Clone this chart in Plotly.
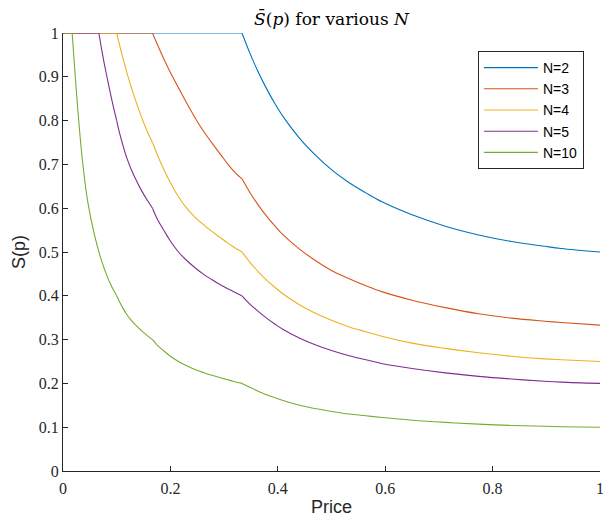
import plotly.graph_objects as go

# Average share S(p) versus price, one curve per number of sellers N
price_tail = [0.3333, 0.348, 0.362, 0.379, 0.395, 0.410, 0.441, 0.472, 0.500,
              0.533, 0.564, 0.595, 0.650, 0.712, 0.774, 0.835, 0.897, 0.928, 1.0]

price_n2 = [0.0] + price_tail
share_n2 = [1.0, 1.0, 0.954, 0.915, 0.873, 0.838, 0.809, 0.759, 0.719, 0.688,
            0.658, 0.635, 0.614, 0.585, 0.559, 0.539, 0.524, 0.513, 0.508, 0.500]

price_n3 = [0.0, 0.1667, 0.176, 0.188, 0.200, 0.219, 0.235, 0.250, 0.265,
            0.281, 0.295, 0.308, 0.320] + price_tail
share_n3 = [1.0, 1.0, 0.973, 0.940, 0.910, 0.866, 0.830, 0.798, 0.770,
            0.743, 0.720, 0.699, 0.682,
            0.667, 0.636, 0.610, 0.582, 0.559, 0.539, 0.506, 0.479, 0.458,
            0.439, 0.423, 0.409, 0.390, 0.373, 0.359, 0.349, 0.342, 0.339, 0.333]

price_n4 = [0.0, 0.100, 0.110, 0.120, 0.130, 0.140, 0.150, 0.1575,
            0.1667, 0.176, 0.188, 0.200, 0.215, 0.231, 0.247, 0.262, 0.277,
            0.293, 0.305, 0.317] + price_tail
share_n4 = [1.0, 1.0, 0.950, 0.905, 0.865, 0.829, 0.796, 0.7735,
            0.750, 0.721, 0.688, 0.658, 0.626, 0.599, 0.578, 0.562, 0.547,
            0.533, 0.522, 0.512,
            0.500, 0.477, 0.457, 0.436, 0.419, 0.404, 0.379, 0.359, 0.344,
            0.329, 0.318, 0.307, 0.292, 0.280, 0.270, 0.262, 0.256, 0.254, 0.250]

price_n5 = [0.0, 0.0667, 0.072, 0.077, 0.082, 0.0864, 0.093,
            0.100, 0.105, 0.111, 0.1185, 0.1265, 0.135, 0.145, 0.157,
            0.1667, 0.176, 0.188, 0.200, 0.215, 0.231, 0.247, 0.262, 0.277,
            0.293, 0.305, 0.317] + price_tail
share_n5 = [1.0, 1.0, 0.962, 0.929, 0.899, 0.873, 0.836,
            0.800, 0.773, 0.746, 0.716, 0.690, 0.667, 0.643, 0.618,
            0.600, 0.574, 0.549, 0.525, 0.500, 0.480, 0.463, 0.449, 0.437,
            0.425, 0.417, 0.410,
            0.400, 0.381, 0.366, 0.349, 0.335, 0.323, 0.303, 0.287, 0.275,
            0.263, 0.254, 0.245, 0.234, 0.224, 0.216, 0.210, 0.205, 0.203, 0.200]

price_n10 = [0.0, 0.017, 0.0205, 0.0247, 0.031, 0.037, 0.046, 0.058, 0.071,
             0.083, 0.092,
             0.100, 0.105, 0.111, 0.1185, 0.1265, 0.135, 0.145, 0.157,
             0.1667, 0.176, 0.188, 0.200, 0.215, 0.231, 0.247, 0.262, 0.277,
             0.293, 0.305, 0.317] + price_tail
share_n10 = [1.0, 1.0, 0.940, 0.870, 0.775, 0.700, 0.615, 0.542, 0.483,
             0.442, 0.418,
             0.400, 0.387, 0.373, 0.358, 0.345, 0.3335, 0.3215, 0.309,
             0.300, 0.287, 0.274, 0.262, 0.250, 0.240, 0.231, 0.2245, 0.2185,
             0.213, 0.209, 0.205,
             0.200, 0.191, 0.183, 0.174, 0.167, 0.161, 0.150, 0.142, 0.136,
             0.130, 0.126, 0.122, 0.116, 0.111, 0.107, 0.104, 0.102, 0.101, 0.100]

series_names = ["N=2", "N=3", "N=4", "N=5", "N=10"]
series_x = [price_n2, price_n3, price_n4, price_n5, price_n10]
series_y = [share_n2, share_n3, share_n4, share_n5, share_n10]
series_colors = ["#0072BD", "#D95319", "#EDB120", "#7E2F8E", "#77AC30"]

# prices where the curves have a corner (slope changes abruptly)
kink_prices = [0.1, 1 / 6, 1 / 3]

x_ticks = [0, 0.2, 0.4, 0.6, 0.8, 1]
y_ticks = [0, 0.1, 0.2, 0.3, 0.4, 0.5, 0.6, 0.7, 0.8, 0.9, 1]

axis_color = "#262626"
serif = "DejaVu Serif, Liberation Serif, serif"
tick_serif = "Liberation Serif, DejaVu Serif, serif"
sans = "Liberation Sans, Arial, sans-serif"


def split_pieces(xs, ys):
    """Split a curve into smooth pieces at the end of the flat top and at kinks."""
    breaks = set()
    last_flat = max(i for i, y in enumerate(ys) if y >= 1.0)
    breaks.add(last_flat)
    for i, x in enumerate(xs):
        if 0 < i < len(xs) - 1 and any(abs(x - k) < 0.002 for k in kink_prices):
            breaks.add(i)
    cuts = [0] + sorted(breaks) + [len(xs) - 1]
    pieces = []
    for a, b in zip(cuts[:-1], cuts[1:]):
        if b > a:
            pieces.append((xs[a:b + 1], ys[a:b + 1]))
    return pieces


fig = go.Figure()
for name, xs, ys, col in zip(series_names, series_x, series_y, series_colors):
    for j, (px, py) in enumerate(split_pieces(xs, ys)):
        fig.add_trace(go.Scatter(
            x=px, y=py, mode="lines", name=name,
            legendgroup=name, showlegend=(j == 0),
            line=dict(color=col, width=1.1, shape="spline", smoothing=1.0),
            cliponaxis=False,
        ))

fig.update_layout(
    width=610, height=524,
    margin=dict(l=63, r=6, t=33, b=53),
    paper_bgcolor="white", plot_bgcolor="white",
    title=dict(
        text="<i>S\u0304</i>(<i>p</i>) for various <i>N</i>",
        font=dict(family=serif, size=17, color="#000000"),
        x=0.5, xref="paper", xanchor="center",
        y=1 - 19 / 524, yref="container", yanchor="middle",
    ),
    legend=dict(
        x=(481 - 63) / 541, y=(471 - 51) / 438,
        xanchor="left", yanchor="top",
        bgcolor="white", bordercolor=axis_color, borderwidth=1,
        font=dict(family=sans, size=14, color="#000000"),
        itemwidth=54, tracegroupgap=0,
    ),
    showlegend=True,
)

fig.update_xaxes(
    range=[0, 1], tickvals=x_ticks,
    showgrid=False, zeroline=False,
    showline=True, linecolor=axis_color, linewidth=1,
    ticks="inside", ticklen=5, tickcolor=axis_color, tickwidth=1,
    tickfont=dict(family=tick_serif, size=16, color=axis_color),
    ticklabelstandoff=3,
    title=dict(text="Price", font=dict(family=sans, size=18, color=axis_color), standoff=4),
)
fig.update_yaxes(
    range=[0, 1], tickvals=y_ticks,
    showgrid=False, zeroline=False,
    showline=True, linecolor=axis_color, linewidth=1,
    ticks="inside", ticklen=5, tickcolor=axis_color, tickwidth=1,
    tickfont=dict(family=tick_serif, size=16, color=axis_color),
    title=dict(text="S(p)", font=dict(family=sans, size=18, color=axis_color), standoff=8),
)

fig.write_html("out.html")
